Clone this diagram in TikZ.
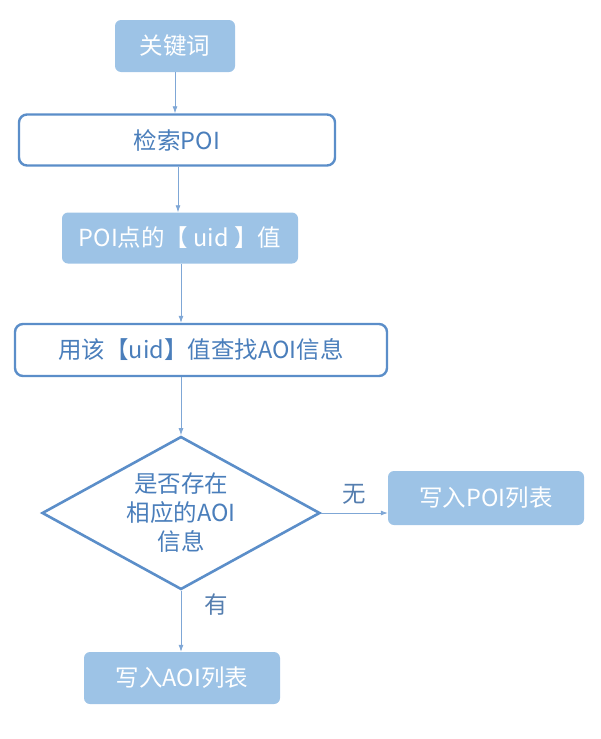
\documentclass[tikz,border=0pt]{standalone}
\usepackage{fontspec}
\setmainfont{Noto Sans CJK SC}
\usetikzlibrary{shapes.geometric,arrows.meta}
\definecolor{fillb}{HTML}{9DC3E6}
\definecolor{lineb}{HTML}{5B8EC9}
\definecolor{txtb}{HTML}{4A7EBB}
\definecolor{arr}{HTML}{7FA7D6}
\begin{document}
\begin{tikzpicture}[x=1pt,y=-1pt,
  every node/.style={font=\fontsize{23.5}{27}\selectfont},
  filled/.style={rectangle,rounded corners=6pt,fill=fillb,text=white,inner sep=0pt},
  outlined/.style={rectangle,rounded corners=8pt,draw=lineb,line width=2.4pt,fill=white,text=txtb,inner sep=0pt},
  conn/.style={draw=arr,line width=0.8pt,-{Latex[length=7pt,width=5pt]}},
  lab/.style={text=txtb!80!gray}]
\useasboundingbox (0,0) rectangle (600,739);
\node[filled,minimum width=120,minimum height=52] (kw) at (175,46) {关键词};
\node[outlined,minimum width=316,minimum height=51] (search) at (177,140) {检索POI};
\node[filled,minimum width=236,minimum height=51] (uid) at (180,238) {POI点的【 uid 】值};
\node[outlined,minimum width=372,minimum height=52] (find) at (201,350) {用该【uid】值查找AOI信息};
\node[diamond,draw=lineb,line width=2.6pt,fill=white,text=txtb,aspect=1.8,inner sep=0pt,minimum width=278,minimum height=153,align=center,font=\fontsize{23.5}{29}\selectfont] (dec) at (181,513) {是否存在\\相应的AOI\\信息};
\node[filled,minimum width=196,minimum height=54] (poi) at (486,498) {写入POI列表};
\node[filled,minimum width=196,minimum height=52] (aoi) at (182,678) {写入AOI列表};
\draw[conn] (kw.south) -- (kw.south |- search.north);
\draw[conn] ([xshift=1pt]search.south) -- ([xshift=1pt]search.south |- uid.north);
\draw[conn] ([xshift=1pt]uid.south) -- ([xshift=1pt]uid.south |- find.north);
\draw[conn] (find.south -| dec.north) -- (dec.north);
\draw[conn] (dec.east) -- (dec.east -| poi.west) node[lab,midway,above=5pt] {无};
\draw[conn] (dec.south) -- (dec.south |- aoi.north) node[lab,pos=0.22,right=20pt] {有};
\end{tikzpicture}
\end{document}
